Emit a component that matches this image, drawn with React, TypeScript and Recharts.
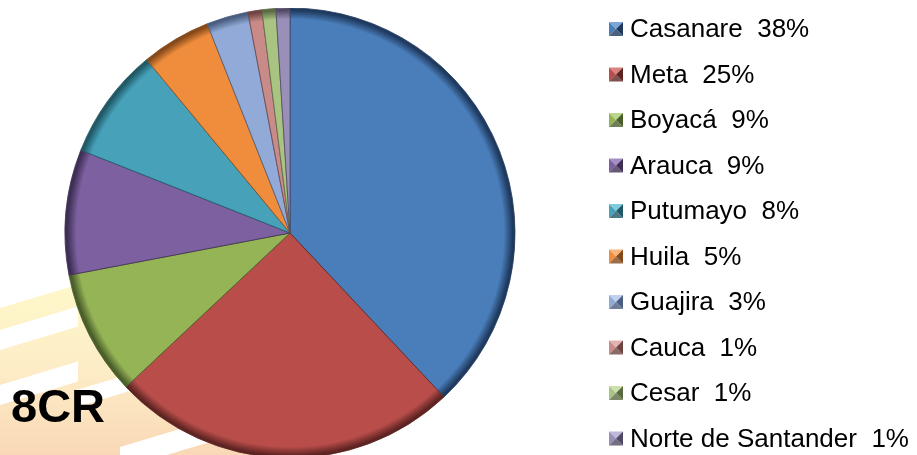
import React from 'react';
import { PieChart, Pie, Cell, Legend } from 'recharts';

const regions = ['Casanare', 'Meta', 'Boyacá', 'Arauca', 'Putumayo', 'Huila', 'Guajira', 'Cauca', 'Cesar', 'Norte de Santander'];
const shares = [38, 25, 9, 9, 8, 5, 3, 1, 1, 1];
const shareLabels = ['38%', '25%', '9%', '9%', '8%', '5%', '3%', '1%', '1%', '1%'];
const baseColors = ['#4A7EBB', '#B84D4A', '#95B456', '#7D60A0', '#46A1B9', '#F08D3D', '#92AAD7', '#C98B89', '#A9C383', '#9A8FB8'];
const darkColors = ['#1F3A5E', '#5E2422', '#4A5E2A', '#3E2F55', '#205866', '#85491A', '#4A5E80', '#6E4442', '#5A6B44', '#514A66'];
const lightColors = ['#7FA6D8', '#D98380', '#BCD78A', '#A68DC4', '#7FCBDE', '#F8B47A', '#C0D0EE', '#E3B3B1', '#CCE0AC', '#C0B8D8'];

const data = regions.map((name, i) => ({ name, value: shares[i] }));

const FONT = "'Liberation Sans', Arial, sans-serif";
const CX = 282;
const CY = 225;
const R = 225;

const LegendContent = () => (
  <svg width={308} height={447} style={{ overflow: 'visible' }}>
    {regions.map((n, i) => {
      const y = i * 45.5;
      const x0 = 0, y0 = 14 + y, s = 14;
      const cxm = x0 + s / 2, cym = y0 + s / 2;
      return (
        <g key={n}>
          <polygon points={`${x0},${y0} ${x0 + s},${y0} ${cxm},${cym}`} fill={lightColors[i]} />
          <polygon points={`${x0},${y0} ${x0},${y0 + s} ${cxm},${cym}`} fill={baseColors[i]} />
          <polygon points={`${x0 + s},${y0} ${x0 + s},${y0 + s} ${cxm},${cym}`} fill={darkColors[i]} />
          <polygon points={`${x0},${y0 + s} ${x0 + s},${y0 + s} ${cxm},${cym}`} fill={darkColors[i]} opacity={0.8} />
          <text x={21} y={29 + y} fontFamily={FONT} fontSize={26} fill="#000" style={{ whiteSpace: 'pre' }}>
            {`${n}  ${shareLabels[i]}`}
          </text>
        </g>
      );
    })}
  </svg>
);

export default function App() {
  return (
    <div style={{ position: 'relative', width: 909, height: 447 }}>
      <svg width={917} height={455} style={{ position: 'fixed', left: 0, top: 0, pointerEvents: 'none' }}>
        <defs>
          <linearGradient id="bgband" x1="0" y1="290" x2="0" y2="455" gradientUnits="userSpaceOnUse">
            <stop offset="0" stopColor="#FEF7CA" />
            <stop offset="0.5" stopColor="#FDECC6" />
            <stop offset="1" stopColor="#F9D8B6" />
          </linearGradient>
        </defs>
        <polygon points="0,308 300,218 300,455 0,455" fill="url(#bgband)" />
        <polygon points="0,330 78,306.6 78,326.6 0,350" fill="#fff" />
        <polygon points="0,385 78,361.6 78,381.6 0,405" fill="#fff" />
        <polygon points="78,389.6 200,353 200,370 78,406.6" fill="#fff" />
        <polygon points="120,447 300,393 300,415 120,469" fill="#fff" />
        <text x={11} y={422} fontFamily={FONT} fontWeight="bold" fontSize={47} fill="#000">8CR</text>
      </svg>
      <div style={{ position: 'absolute', left: 0, top: 0 }}>
        <PieChart width={909} height={447} margin={{ top: 0, right: 0, bottom: 0, left: 0 }}>
          <defs>
            {baseColors.map((c, i) => (
              <radialGradient key={i} id={`sg${i}`} gradientUnits="userSpaceOnUse" cx={CX} cy={CY} r={R}>
                <stop offset="0" stopColor={c} />
                <stop offset="0.95" stopColor={c} />
                <stop offset="0.99" stopColor={darkColors[i]} />
                <stop offset="1" stopColor={darkColors[i]} />
              </radialGradient>
            ))}
          </defs>
          <Pie
            data={data}
            dataKey="value"
            nameKey="name"
            cx={CX}
            cy={CY}
            outerRadius={R}
            startAngle={90}
            endAngle={-270}
            isAnimationActive={false}
            label={false}
            labelLine={false}
          >
            {data.map((d, i) => (
              <Cell key={d.name} fill={`url(#sg${i})`} stroke={darkColors[i]} strokeWidth={1} strokeOpacity={0.8} />
            ))}
          </Pie>
          <Legend
            content={<LegendContent />}
            wrapperStyle={{ position: 'absolute', left: 601, top: 0, width: 308, height: 447 }}
          />
        </PieChart>
      </div>
    </div>
  );
}
